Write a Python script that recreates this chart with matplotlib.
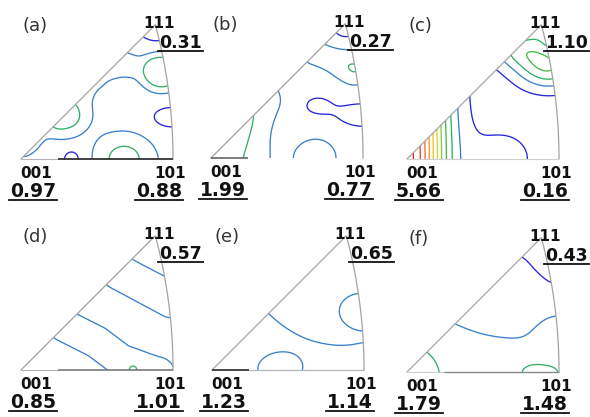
import numpy as np
import matplotlib
matplotlib.use("Agg")
import matplotlib.pyplot as plt
from matplotlib.lines import Line2D
from matplotlib.patches import PathPatch
from matplotlib.path import Path

plt.rcParams["font.family"] = ["DejaVu Sans"]

PANEL_LABELS = ["(a)", "(b)", "(c)", "(d)", "(e)", "(f)"]
POLE_NAMES = ["001", "101", "111"]

# density (m.r.d.) at the three poles of each inverse pole figure
MRD_001 = [0.97, 1.99, 5.66, 0.85, 1.23, 1.79]
MRD_101 = [0.88, 0.77, 0.16, 1.01, 1.14, 1.48]
MRD_111 = [0.31, 0.27, 1.10, 0.57, 0.65, 0.43]

# smooth density model for each panel: background level plus kernel components
# (polyline in stereographic coordinates, amplitude, sigma_x, sigma_y, shape exponent)
BACKGROUND = [0.78, 0.68, 0.22, 0.90, 1.20, 1.25]

COMP_A = [
    ([(0.022, 0.060), (0.185, 0.223)], 0.35, 0.038, 0.038, 2),
    ([(0.120, 0.112)], 0.60, 0.046, 0.046, 4),
    ([(0.180, 0.114)], 0.18, 0.038, 0.038, 2),
    ([(0.272, 0.264), (0.409, 0.240)], 0.35, 0.038, 0.038, 2),
    ([(0.381, 0.237)], 0.80, 0.044, 0.044, 4),
    ([(0.365, 0.365)], -0.50, 0.049, 0.049, 2),
    ([(0.281, 0.000)], 0.98, 0.052, 0.044, 2),
    ([(0.139, 0.000)], -0.45, 0.022, 0.022, 2),
    ([(0.409, 0.114)], -0.50, 0.044, 0.025, 2),
]
COMP_B = [
    ([(0.000, 0.000)], 1.22, 0.095, 0.545, 2),
    ([(0.068, 0.068), (0.158, 0.158)], 0.25, 0.033, 0.033, 2),
    ([(0.286, 0.286), (0.390, 0.245)], 0.50, 0.033, 0.033, 2),
    ([(0.390, 0.245)], 0.36, 0.033, 0.033, 2),
    ([(0.365, 0.360)], -0.45, 0.027, 0.027, 2),
    ([(0.289, 0.142)], -0.30, 0.033, 0.022, 2),
    ([(0.409, 0.117)], -0.40, 0.054, 0.025, 2),
    ([(0.289, 0.000)], 0.50, 0.054, 0.052, 2),
]
COMP_C = [
    ([(0.000, 0.000)], 5.44, 0.071, 0.409, 2),
    ([(0.259, 0.000)], 0.45, 0.071, 0.065, 2),
    ([(0.387, 0.251)], 1.75, 0.060, 0.041, 2),
    ([(0.305, 0.300)], 1.20, 0.054, 0.035, 2),
    ([(0.365, 0.360)], 0.60, 0.033, 0.033, 2),
]
COMP_D = [
    ([(0.120, 0.120), (0.207, 0.076), (0.272, 0.027), (0.368, -0.008)], 0.20, 0.037, 0.037, 2),
    ([(0.267, 0.267), (0.409, 0.191)], 0.20, 0.041, 0.041, 2),
    ([(0.305, 0.000)], 0.50, 0.016, 0.016, 2),
]
COMP_E = [
    ([(0.365, 0.360)], -0.55, 0.207, 0.207, 2),
    ([(0.180, 0.000)], -0.30, 0.044, 0.030, 2),
    ([(0.403, 0.174)], 0.35, 0.044, 0.035, 2),
]
COMP_F = [
    ([(0.381, 0.360)], -0.85, 0.381, 0.174, 2),
    ([(0.000, 0.000)], 0.60, 0.079, 0.079, 2),
    ([(0.414, 0.109)], 0.30, 0.041, 0.041, 2),
    ([(0.349, 0.000)], 0.50, 0.041, 0.025, 2),
    ([(0.294, 0.294)], 0.08, 0.033, 0.033, 2),
    ([(0.409, 0.245)], -0.08, 0.033, 0.033, 2),
]
COMPONENTS = [COMP_A, COMP_B, COMP_C, COMP_D, COMP_E, COMP_F]

LEVELS = [0.5, 1.0, 1.5, 2.0, 2.5, 3.0, 3.5, 4.0, 4.5, 5.0, 5.5]
LEVEL_COLORS = ["#2626de", "#3a80cc", "#2fb168", "#45ba45", "#8fc93a", "#d6d32a",
                "#f1bf22", "#f59a26", "#f26a2a", "#ee3b2b", "#e41c22"]

# layout: pixel position of the 001 corner of each triangle
W, H = 590, 417
SCALE = 367.0  # pixels per stereographic unit
ORIGINS = [(21, 159), (211, 158), (407, 159), (21, 370), (212, 370), (407, 372)]

# the 001-101 edge is drawn in two pieces, split at x = SPLIT
SPLIT = 0.10
EDGE_LEFT = [("#b4b4b4", 0.8), ("#5a5a5a", 1.1), ("#cfcfcf", 0.8),
             ("#b4b4b4", 0.8), ("#262626", 1.2), ("#cfcfcf", 0.8)]
EDGE_RIGHT = [("#333333", 1.3), None, ("#cfcfcf", 0.8),
              ("#6e6e6e", 1.1), ("#b4b4b4", 0.9), ("#8a8a8a", 1.0)]

T101 = np.sqrt(2.0) - 1.0
P111 = (np.sqrt(3.0) - 1.0) / 2.0


def boundary():
    # 001 -> 101 along the bottom, great circle 101 -> 111, back to 001
    psi = np.linspace(0.0, np.arctan(1.0 / np.sqrt(2.0)), 80)
    vx = np.cos(psi) / np.sqrt(2.0)
    vy = np.sin(psi)
    xs = np.concatenate([[0.0], vx / (1.0 + vx), [0.0]])
    ys = np.concatenate([[0.0], vy / (1.0 + vx), [0.0]])
    return xs, ys


def kernel(xx, yy, comp):
    pts, amp, sx, sy, p = comp
    pts = np.asarray(pts, dtype=float)
    ux, uy = xx / sx, yy / sy
    qx, qy = pts[:, 0] / sx, pts[:, 1] / sy
    d2 = (ux - qx[0]) ** 2 + (uy - qy[0]) ** 2
    for k in range(len(pts) - 1):
        dx, dy = qx[k + 1] - qx[k], qy[k + 1] - qy[k]
        t = np.clip(((ux - qx[k]) * dx + (uy - qy[k]) * dy) / (dx * dx + dy * dy), 0.0, 1.0)
        d2 = np.minimum(d2, (ux - qx[k] - t * dx) ** 2 + (uy - qy[k] - t * dy) ** 2)
    return amp * np.exp(-0.5 * d2 ** (p / 2.0))


def density(xx, yy, base, comps, poles):
    def raw(x, y):
        f = np.full(np.shape(x), base, dtype=float)
        for c in comps:
            f = f + kernel(x, y, c)
        return f

    # small pole corrections so the field takes the listed value at each pole
    corners = np.array([[0.0, 0.0], [T101, 0.0], [P111, P111]])
    sc = 0.027
    g = np.exp(-0.5 * ((corners[:, None, 0] - corners[None, :, 0]) ** 2
                       + (corners[:, None, 1] - corners[None, :, 1]) ** 2) / sc ** 2)
    miss = np.array(poles) - raw(corners[:, 0], corners[:, 1])
    coef = np.linalg.solve(g, miss)
    f = raw(xx, yy)
    for (cx, cy), c in zip(corners, coef):
        f = f + c * np.exp(-0.5 * ((xx - cx) ** 2 + (yy - cy) ** 2) / sc ** 2)
    return f


fig = plt.figure(figsize=(W / 100, H / 100), dpi=100)
bx, by = boundary()
gx, gy = np.meshgrid(np.linspace(-0.01, 0.43, 440), np.linspace(-0.01, 0.38, 390))

value_texts = []
for i, (x0, y0) in enumerate(ORIGINS):
    left, right, below, above = 30, 170, 50, 150
    ax = fig.add_axes([(x0 - left) / W, (H - (y0 + below)) / H,
                       (left + right) / W, (below + above) / H])
    ax.set_xlim(-left / SCALE, right / SCALE)
    ax.set_ylim(-below / SCALE, above / SCALE)
    ax.axis("off")
    ax.patch.set_alpha(0)

    tri = PathPatch(Path(np.column_stack([bx, by]), closed=True), fill=False,
                    edgecolor="none")
    ax.add_patch(tri)

    poles = [MRD_001[i], MRD_101[i], MRD_111[i]]
    f = density(gx, gy, BACKGROUND[i], COMPONENTS[i], poles)
    cs = ax.contour(gx, gy, f, levels=LEVELS, colors=LEVEL_COLORS, linewidths=0.95)
    cs.set_clip_path(tri)

    # arc and 001-111 edge, then the two pieces of the bottom edge
    ax.plot(bx[1:], by[1:], color="#a3a3a3", lw=0.9, zorder=3)
    for (xa, xb), style in zip([(0.0, SPLIT), (SPLIT, T101)], [EDGE_LEFT[i], EDGE_RIGHT[i]]):
        if style is not None:
            ax.plot([xa, xb], [0.0, 0.0], color=style[0], lw=style[1], zorder=3,
                    solid_capstyle="butt")

    def px(dx, dy):
        return dx / SCALE, dy / SCALE

    ax.text(*px(2, 133), PANEL_LABELS[i], fontsize=13, color="#333333",
            ha="left", va="center")
    ax.text(*px(138, 131), POLE_NAMES[2], fontsize=11, fontweight="bold",
            color="#111111", ha="center", va="baseline")
    ax.text(*px(-1, -19), POLE_NAMES[0], fontsize=11, fontweight="bold",
            color="#111111", ha="left", va="baseline")
    ax.text(*px(149, -19), POLE_NAMES[1], fontsize=11, fontweight="bold",
            color="#111111", ha="center", va="baseline")

    t1 = ax.text(*px(138, 111), f"{MRD_111[i]:.2f}", fontsize=12.5,
                 fontweight="bold", color="#111111", ha="left", va="baseline")
    t2 = ax.text(*px(-11, -38), f"{MRD_001[i]:.2f}", fontsize=13.5,
                 fontweight="bold", color="#111111", ha="left", va="baseline")
    t3 = ax.text(*px(161, -38), f"{MRD_101[i]:.2f}", fontsize=13.5,
                 fontweight="bold", color="#111111", ha="right", va="baseline")
    value_texts += [(ax, t) for t in (t1, t2, t3)]

# underline the density values
fig.canvas.draw()
renderer = fig.canvas.get_renderer()
for ax, t in value_texts:
    bb = t.get_window_extent(renderer)
    base_y = ax.transData.transform(t.get_position())[1] - 3
    fig.add_artist(Line2D([(bb.x0 - 1) / W, (bb.x1 + 1) / W], [base_y / H, base_y / H],
                          transform=fig.transFigure, color="#111111", linewidth=1.3))

fig.savefig("out.png", dpi=100)
